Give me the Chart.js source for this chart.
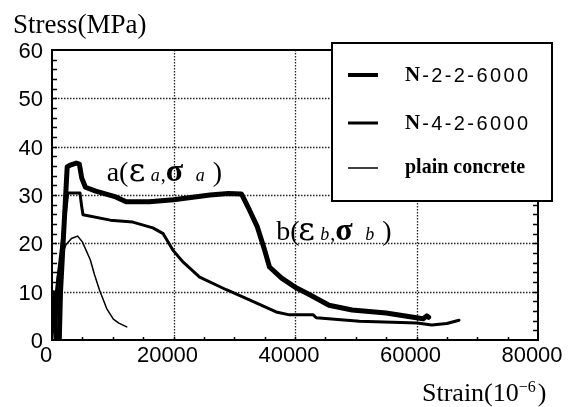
<!DOCTYPE html>
<html>
<head>
<meta charset="utf-8">
<script src="https://cdn.jsdelivr.net/npm/chart.js@4.4.1/dist/chart.umd.min.js"></script>
<style>
  html, body { margin: 0; padding: 0; background: #fff; }
  #wrap { width: 579px; height: 407px; }
</style>
</head>
<body>
<div id="wrap"><canvas id="grafico" width="579" height="407"></canvas></div>
<script>
// valores: strain em 10^-6, stress em MPa
const serieNomes = ['N-2-2-6000', 'N-4-2-6000', 'plain concrete'];
const serieLarguras = [5, 3, 1.5];

const strainN22 = [1200, 1400, 2500, 3000, 4000, 4500, 4900, 5500, 7200, 10500, 12200, 16000, 20000, 26000, 29000, 31200, 32500, 33800, 35000, 35800, 37800, 40200, 42500, 45600, 49400, 55000, 60000, 61100, 61700, 62000];
const stressN22 = [0, 10, 35.8, 36.2, 36.6, 36.4, 33.5, 31.6, 30.8, 29.6, 28.6, 28.6, 29.0, 30.0, 30.3, 30.2, 26.9, 23.4, 18.6, 15.1, 12.8, 10.8, 9.3, 7.2, 6.2, 5.6, 4.6, 4.4, 5.0, 4.7];

const strainN42 = [0, 300, 600, 900, 2600, 4600, 4900, 5100, 9600, 13300, 16600, 18300, 19900, 21600, 24300, 28700, 32500, 36900, 39100, 43000, 43500, 50600, 60100, 62500, 65000, 67000];
const stressN42 = [0, 10, 0, 12, 30.4, 30.4, 27.5, 25.9, 24.8, 24.4, 23.2, 22.0, 18.6, 16.1, 13.0, 10.4, 8.3, 5.8, 5.2, 5.2, 4.6, 3.9, 3.5, 3.1, 3.4, 4.1];

const strainPlain = [0, 600, 1000, 1500, 2300, 3200, 4200, 5000, 6300, 7000, 7800, 9000, 10100, 11000, 12300];
const stressPlain = [0, 10, 14, 17, 19.7, 21, 21.5, 20.3, 16.6, 13.5, 10.4, 6.5, 4.3, 3.5, 2.7];

const xTickLabels = ['0', '20000', '40000', '60000', '80000'];
const yTickLabels = ['0', '10', '20', '30', '40', '50', '60'];
const xGrade = [20000, 40000, 60000];
const yGrade = [10, 20, 30, 40, 50];

// rotulos dos pontos a e b (posicao em coordenadas do grafico)
const rotuloA = { partes: ['a(', 'ε', 'a', ',', 'σ', 'a', ')'], x: 9000, y: 33.0 };
const rotuloB = { partes: ['b(', 'ε', 'b', ',', 'σ', 'b', ')'], x: 36900, y: 20.7 };

function juntar(xs, ys) {
   return xs.map((x, i) => ({ x: x, y: ys[i] }));
}

const fonteRotulo = [
   '28px "Liberation Serif"',
   '32px "DejaVu Serif"',
   'italic 18px "Liberation Serif"',
   '20px "Liberation Serif"',
   'bold 32px "Liberation Serif"',
   'italic 18px "Liberation Serif"',
   '28px "Liberation Serif"'
];
const deslocRotulo = [0, 22, 44, 54, 59, 89, 106];

function desenharRotulo(ctx, chart, rot) {
   var x0 = chart.scales.x.getPixelForValue(rot.x);
   var base = chart.scales.y.getPixelForValue(rot.y);
   ctx.fillStyle = '#000';
   ctx.textBaseline = 'alphabetic';
   ctx.textAlign = 'left';
   rot.partes.forEach((p, i) => {
      ctx.font = fonteRotulo[i];
      ctx.fillText(p, x0 + deslocRotulo[i], base);
   });
}

function desenharLegenda(ctx, chart) {
   var esq = 332, topo = 43, dir = 552, baixo = 201;
   ctx.save();
   ctx.fillStyle = '#fff';
   ctx.fillRect(esq, topo, dir - esq, baixo - topo);
   ctx.strokeStyle = '#000';
   ctx.lineWidth = 2;
   ctx.strokeRect(esq, topo, dir - esq, baixo - topo);

   var linhas = [75, 123, 168];
   chart.data.datasets.forEach((ds, i) => {
      var y = linhas[i];
      ctx.beginPath();
      ctx.lineWidth = Math.min(ds.borderWidth, 4);
      ctx.moveTo(348, y);
      ctx.lineTo(378, y);
      ctx.stroke();

      ctx.fillStyle = '#000';
      ctx.textBaseline = 'middle';
      ctx.textAlign = 'left';
      var m = ds.label.match(/^(N)(-.*)$/);
      if (m) {
         ctx.font = 'bold 21px "Liberation Serif"';
         ctx.fillText(m[1], 405, y + 1);
         var w = ctx.measureText(m[1]).width;
         ctx.font = '20px "Liberation Sans"';
         ctx.letterSpacing = '2.4px';
         ctx.fillText(m[2], 405 + w + 2, y + 1);
         ctx.letterSpacing = '0px';
      } else {
         ctx.font = 'bold 20px "Liberation Serif"';
         ctx.fillText(ds.label, 405, y);
      }
   });
   ctx.restore();
}

const molduraPlugin = {
   id: 'moldura',
   beforeDatasetsDraw(chart) {
      var ctx = chart.ctx;
      var area = chart.chartArea;
      var sx = chart.scales.x, sy = chart.scales.y;
      ctx.save();
      ctx.strokeStyle = '#222';
      ctx.lineWidth = 1.3;
      ctx.setLineDash([1.5, 1.5]);
      xGrade.forEach(v => {
         var px = Math.round(sx.getPixelForValue(v)) + 0.5;
         ctx.beginPath();
         ctx.moveTo(px, area.top);
         ctx.lineTo(px, area.bottom);
         ctx.stroke();
      });
      yGrade.forEach(v => {
         var py = Math.round(sy.getPixelForValue(v)) + 0.5;
         ctx.beginPath();
         ctx.moveTo(area.left, py);
         ctx.lineTo(area.right, py);
         ctx.stroke();
      });
      ctx.restore();
   },
   afterDatasetsDraw(chart) {
      var ctx = chart.ctx;
      var area = chart.chartArea;
      var sx = chart.scales.x, sy = chart.scales.y;
      ctx.save();
      ctx.strokeStyle = '#000';
      ctx.setLineDash([]);

      // ticks menores
      ctx.lineWidth = 1.5;
      for (var v = 2; v < 60; v += 2) {
         var py = Math.round(sy.getPixelForValue(v)) + 0.5;
         ctx.beginPath();
         ctx.moveTo(area.left, py);
         ctx.lineTo(area.left + 5, py);
         ctx.moveTo(area.right - 5, py);
         ctx.lineTo(area.right, py);
         ctx.stroke();
      }
      for (var s = 5000; s < 80000; s += 5000) {
         var px = Math.round(sx.getPixelForValue(s)) + 0.5;
         ctx.beginPath();
         ctx.moveTo(px, area.bottom);
         ctx.lineTo(px, area.bottom - 3);
         ctx.stroke();
      }

      // moldura
      ctx.lineWidth = 2;
      ctx.strokeRect(area.left, area.top, area.right - area.left, area.bottom - area.top);

      desenharRotulo(ctx, chart, rotuloA);
      desenharRotulo(ctx, chart, rotuloB);
      desenharLegenda(ctx, chart);

      // titulos dos eixos
      ctx.fillStyle = '#000';
      ctx.textAlign = 'left';
      ctx.textBaseline = 'alphabetic';
      ctx.font = '27px "Liberation Serif"';
      ctx.fillText('Stress(MPa)', 13, 33);

      ctx.font = '26px "Liberation Serif"';
      var t1 = 'Strain(10';
      ctx.fillText(t1, 422, 401);
      var w1 = ctx.measureText(t1).width;
      ctx.font = '16px "Liberation Serif"';
      ctx.fillText('\u22126', 422 + w1, 392);
      var w2 = ctx.measureText('\u22126').width;
      ctx.font = '26px "Liberation Serif"';
      ctx.fillText(')', 424 + w1 + w2, 401);
      ctx.restore();
   }
};

var ctx = document.getElementById('grafico');
new Chart(ctx, {
   type: 'scatter',
   data: {
      datasets: [{
         label: serieNomes[0],
         data: juntar(strainN22, stressN22),
         borderColor: '#000',
         borderWidth: serieLarguras[0]
      }, {
         label: serieNomes[1],
         data: juntar(strainN42, stressN42),
         borderColor: '#000',
         borderWidth: serieLarguras[1]
      }, {
         label: serieNomes[2],
         data: juntar(strainPlain, stressPlain),
         borderColor: '#000',
         borderWidth: serieLarguras[2]
      }]
   },
   options: {
      responsive: false,
      animation: false,
      showLine: true,
      elements: {
         point: { radius: 0, hoverRadius: 0 },
         line: { tension: 0, borderJoinStyle: 'round', borderCapStyle: 'round', fill: false }
      },
      layout: {
         padding: { top: 50, right: 41, left: 0, bottom: 0 }
      },
      plugins: {
         legend: { display: false },
         tooltip: { enabled: false }
      },
      scales: {
         x: {
            type: 'linear',
            min: 0,
            max: 80000,
            afterFit: s => { s.height = 67; },
            grid: { display: false, drawTicks: false },
            border: { display: false },
            ticks: {
               stepSize: 20000,
               autoSkip: false,
               maxRotation: 0,
               padding: 3,
               labelOffset: -6,
               color: '#000',
               font: { family: 'Liberation Sans', size: 22 },
               callback: (v, i) => xTickLabels[i]
            }
         },
         y: {
            min: 0,
            max: 60,
            afterFit: s => { s.width = 52; },
            grid: { display: false, drawTicks: false },
            border: { display: false },
            ticks: {
               stepSize: 10,
               padding: 9,
               labelOffset: 2,
               color: '#000',
               font: { family: 'Liberation Sans', size: 22 },
               callback: (v, i) => yTickLabels[i]
            }
         }
      }
   },
   plugins: [molduraPlugin]
});
</script>
</body>
</html>
